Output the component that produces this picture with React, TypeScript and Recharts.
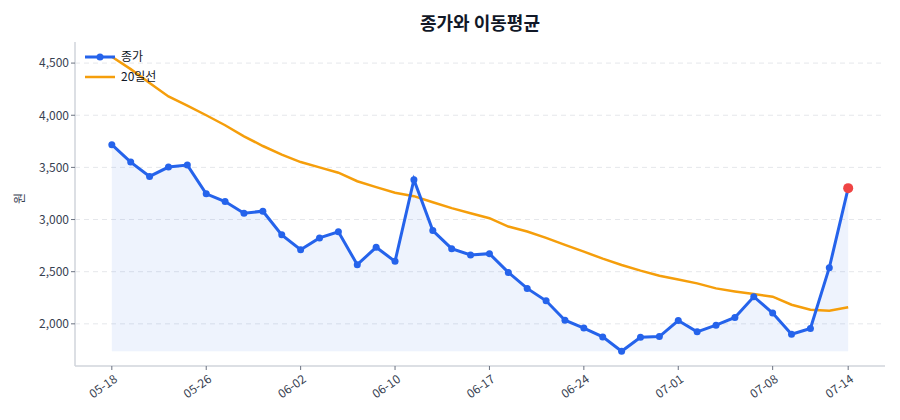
import { ComposedChart, Area, Line, XAxis, YAxis, CartesianGrid } from 'recharts';

const dates = [
  '05-18', '05-19', '05-20', '05-21', '05-22', '05-26', '05-27', '05-28', '05-29', '06-01',
  '06-02', '06-04', '06-05', '06-08', '06-09', '06-10', '06-11', '06-12', '06-15', '06-16',
  '06-17', '06-18', '06-19', '06-22', '06-23', '06-24', '06-25', '06-26', '06-29', '06-30',
  '07-01', '07-02', '07-03', '07-06', '07-07', '07-08', '07-09', '07-10', '07-13', '07-14',
];

const closes = [
  3718, 3551, 3413, 3503, 3522, 3247, 3173, 3061, 3080, 2853,
  2711, 2824, 2882, 2567, 2734, 2599, 3382, 2894, 2721, 2660,
  2673, 2493, 2340, 2221, 2035, 1959, 1875, 1737, 1872, 1878,
  2032, 1923, 1987, 2061, 2260, 2103, 1901, 1955, 2538, 3301,
];

const ma20 = [
  4561, 4442, 4308, 4180, 4093, 4000, 3904, 3798, 3705, 3622,
  3551, 3500, 3449, 3367, 3311, 3257, 3224, 3166, 3109, 3061,
  3013, 2933, 2885, 2824, 2757, 2692, 2625, 2564, 2510, 2461,
  2425, 2388, 2340, 2311, 2286, 2260, 2183, 2135, 2125, 2160,
];

const xTicks = [0, 5, 10, 15, 20, 25, 30, 35, 39];
const yTicks = [2000, 2500, 3000, 3500, 4000, 4500];

const BLUE = '#2563eb';
const ORANGE = '#f59e0b';
const RED = '#ef4444';
const FONT = '"Noto Sans CJK KR", "Noto Sans", sans-serif';

const data = dates.map((d, i) => ({ i, date: d, close: closes[i], ma: ma20[i] }));

const lo = Math.min(...closes, ...ma20);
const hi = Math.max(...closes, ...ma20);
const pad = (hi - lo) * 0.05;
const xPad = (dates.length - 1) * 0.05;

const DateTick = ({ x, y, payload }: any) => (
  <g transform={`translate(${x},${y})`}>
    <text x={0} y={0} dy={11} textAnchor="end" transform="rotate(-35)" fill="#374151" fontSize={12} fontFamily={FONT}>
      {dates[payload.value]}
    </text>
  </g>
);

const CloseDot = ({ cx, cy, index }: any) => {
  const last = index === closes.length - 1;
  return <circle key={index} cx={cx} cy={cy} r={last ? 5 : 3.5} fill={last ? RED : BLUE} stroke="none" />;
};

// legend drawn on top of the plot, upper left
const LegendBox = () => (
  <svg width={90} height={44} style={{ position: 'absolute', left: 83, top: 48, fontFamily: FONT }}>
    <line x1={2} y1={9} x2={32} y2={9} stroke={BLUE} strokeWidth={3} />
    <circle cx={17} cy={9} r={3.5} fill={BLUE} />
    <text x={38} y={13} fontSize={12} fill="#111827">종가</text>
    <line x1={2} y1={29} x2={32} y2={29} stroke={ORANGE} strokeWidth={2.5} />
    <text x={38} y={33} fontSize={12} fill="#111827">20일선</text>
  </svg>
);

export default function App() {
  return (
    <div style={{ position: 'absolute', left: 0, top: 0, width: 900, height: 420, background: '#fff', fontFamily: FONT }}>
      <div style={{ position: 'absolute', left: 0, width: 960, top: 9, textAlign: 'center', fontSize: 18, fontWeight: 700, color: '#111827' }}>
        종가와 이동평균
      </div>
      <ComposedChart width={900} height={420} data={data} margin={{ top: 42, right: 15, bottom: 4, left: 15 }}>
        <CartesianGrid horizontal vertical={false} horizontalValues={yTicks} stroke="#e5e7eb" strokeDasharray="5 4" />
        <XAxis
          dataKey="i"
          type="number"
          domain={[-xPad, dates.length - 1 + xPad]}
          ticks={xTicks}
          allowDataOverflow
          height={50}
          tick={<DateTick />}
          tickLine={{ stroke: '#6b7280' }}
          tickSize={4}
          axisLine={{ stroke: '#d1d5db', strokeWidth: 1.5 }}
        />
        <YAxis
          type="number"
          domain={[lo - pad, hi + pad]}
          ticks={yTicks}
          allowDataOverflow
          width={60}
          tickFormatter={(v: number) => v.toLocaleString('en-US')}
          tick={{ fill: '#374151', fontSize: 12, fontFamily: FONT }}
          tickLine={{ stroke: '#6b7280' }}
          tickSize={4}
          axisLine={{ stroke: '#d1d5db', strokeWidth: 1.5 }}
          label={{ value: '원', angle: -90, position: 'insideLeft', offset: 5, fill: '#374151', fontSize: 12, fontFamily: FONT }}
        />
        <Area
          dataKey="close"
          baseValue={Math.min(...closes)}
          fill={BLUE}
          fillOpacity={0.08}
          stroke="none"
          isAnimationActive={false}
          legendType="none"
          activeDot={false}
        />
        <Line dataKey="ma" stroke={ORANGE} strokeWidth={2.5} dot={false} isAnimationActive={false} />
        <Line dataKey="close" stroke={BLUE} strokeWidth={3} dot={<CloseDot />} isAnimationActive={false} />
      </ComposedChart>
      <LegendBox />
    </div>
  );
}
